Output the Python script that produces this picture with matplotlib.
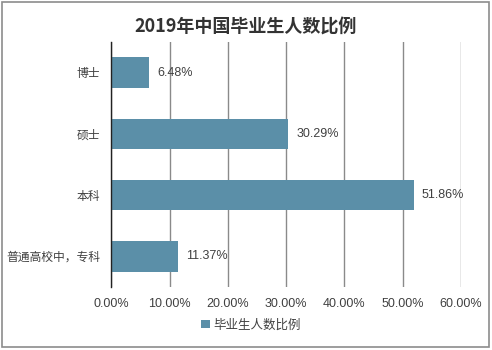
import matplotlib
matplotlib.use("Agg")
import matplotlib.pyplot as plt
from matplotlib.patches import Rectangle

plt.rcParams['font.family'] = ['Liberation Sans', 'Noto Sans CJK SC', 'DejaVu Sans']

categories = ['博士', '硕士', '本科', '普通高校中，专科']
values = [6.48, 30.29, 51.86, 11.37]
xticks = [0, 10, 20, 30, 40, 50, 60]
xtick_labels = ['0.00%', '10.00%', '20.00%', '30.00%', '40.00%', '50.00%', '60.00%']
title = '2019年中国毕业生人数比例'
series_name = '毕业生人数比例'

bar_color = '#5B8FA8'
text_color = '#404040'

fig = plt.figure(figsize=(4.92, 3.5), dpi=100)
ax = fig.add_axes([0.2266, 0.18, 0.7104, 0.70])

y = list(range(len(categories)))
ax.barh(y, values, height=0.5, color=bar_color, zorder=3)
ax.set_ylim(len(categories) - 0.5, -0.5)
ax.set_xlim(0, 60)
ax.set_yticks(y)
ax.set_yticklabels(categories, fontsize=8.5, color=text_color)
ax.set_xticks(xticks)
ax.set_xticklabels(xtick_labels, fontsize=9, color=text_color)
ax.tick_params(axis='y', length=0, pad=8)
ax.tick_params(axis='x', length=0, pad=8)
ax.grid(axis='x', color='#8a8a8a', linewidth=1, zorder=0)
for s in ['top', 'right', 'bottom']:
    ax.spines[s].set_visible(False)
ax.spines['left'].set_color('#222222')
ax.spines['left'].set_linewidth(1)
ax.spines['left'].set_zorder(4)

for yi, v in zip(y, values):
    ax.text(v + 1.4, yi, f'{v:.2f}%', va='center', ha='left', fontsize=9,
            color=text_color, zorder=5)

fig.text(0.5, 0.925, title, ha='center', va='center', fontsize=13,
         fontweight='bold', color='#333333',
         family=['Noto Sans CJK SC', 'DejaVu Sans'])

handle = Rectangle((0, 0), 1, 1, facecolor=bar_color)
fig.legend([handle], [series_name], loc='center', bbox_to_anchor=(0.51, 0.071),
           frameon=False, fontsize=9, handlelength=0.7, handleheight=0.7,
           handletextpad=0.3, labelcolor=text_color)

border = Rectangle((0.005, 0.008), 0.988, 0.986, transform=fig.transFigure,
                   fill=False, edgecolor='#8c8c8c', linewidth=1.2)
fig.patches.append(border)

fig.savefig('out.png', dpi=100, facecolor='white')
